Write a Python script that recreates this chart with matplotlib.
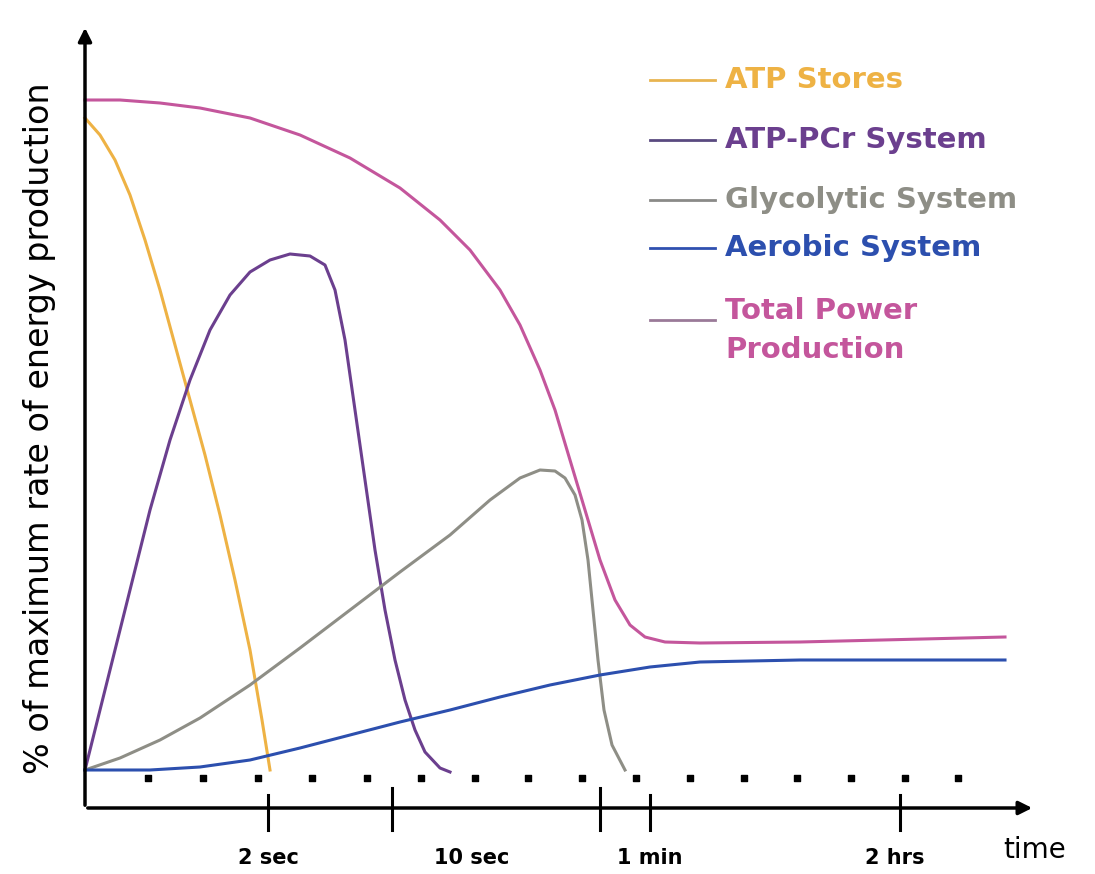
import numpy as np
import matplotlib
matplotlib.use("Agg")
import matplotlib.pyplot as plt

# ─── Data (x: time units from origin, y: % of max rate) ─────────────────────
def pct(py):
    return [(770 - v) / 670 * 100 for v in py]

def tx(px):
    return [v - 85 for v in px]

atp_x = tx([85, 100, 115, 130, 145, 160, 175, 190, 205, 220, 235, 250, 262, 270])
atp_y = pct([118, 135, 160, 195, 240, 290, 345, 400, 455, 515, 580, 650, 720, 770])

pcr_x = tx([85, 95, 110, 130, 150, 170, 190, 210, 230, 250, 270, 290, 310, 325, 335, 345,
            355, 365, 375, 385, 395, 405, 415, 425, 440, 450])
pcr_y = pct([770, 730, 670, 590, 510, 440, 380, 330, 295, 272, 260, 254, 256, 265, 290, 340,
             410, 480, 550, 610, 660, 700, 730, 752, 768, 772])

gly_x = tx([85, 120, 160, 200, 250, 300, 350, 400, 450, 490, 520, 540, 555, 565, 575, 582,
            588, 593, 598, 604, 612, 625])
gly_y = pct([770, 758, 740, 718, 685, 648, 610, 572, 535, 500, 478, 470, 471, 478, 495, 520,
             560, 610, 660, 710, 745, 770])

aer_x = tx([85, 150, 200, 250, 300, 350, 400, 450, 500, 550, 600, 650, 700, 800, 1005])
aer_y = pct([770, 770, 767, 760, 748, 735, 722, 710, 697, 685, 675, 667, 662, 660, 660])

tot_x = tx([85, 120, 160, 200, 250, 300, 350, 400, 440, 470, 500, 520, 540, 555, 570, 585,
            600, 615, 630, 645, 665, 700, 800, 1005])
tot_y = pct([100, 100, 103, 108, 118, 135, 158, 188, 220, 250, 290, 325, 370, 410, 460, 510,
             560, 600, 625, 637, 642, 643, 642, 637])

dot_x = [63, 118, 173, 227, 282, 336, 390, 443, 497, 551, 605, 659, 712, 766, 820, 873]
tick_x = [183, 307, 515, 565, 815]
tick_labels = ["2 sec", "10 sec", "1 min", "2 hrs"]
label_x = [183, 387, 565, 810]

legend_names = ["ATP Stores", "ATP-PCr System", "Glycolytic System", "Aerobic System", "Total Power\nProduction"]
legend_colors = ["#eeb244", "#6b3f8e", "#8e8e86", "#2c4fae", "#c4569c"]
legend_line = ["#e8b450", "#5a4a80", "#8a8a88", "#3050b0", "#9a7a98"]
legend_y = pct([80, 140, 200, 248, 320])

# ─── Figure ────────────────────────────────────────────────────────────────
fig = plt.figure(figsize=(10.95, 8.74), dpi=100)
ax = fig.add_axes([0, 0, 1, 1])
ax.set_xlim(-85, 1010)
ax.set_ylim(pct([874])[0], pct([0])[0])
ax.axis("off")

lw = 2.2
ax.plot(atp_x, atp_y, color=legend_colors[0], lw=lw)
ax.plot(pcr_x, pcr_y, color=legend_colors[1], lw=lw)
ax.plot(gly_x, gly_y, color=legend_colors[2], lw=lw)
ax.plot(aer_x, aer_y, color=legend_colors[3], lw=lw)
ax.plot(tot_x, tot_y, color=legend_colors[4], lw=lw)

# axes with arrows
y0 = pct([808])[0]
ax.annotate("", xy=(0, pct([25])[0]), xytext=(0, y0),
            arrowprops=dict(arrowstyle="-|>", color="black", lw=2.5, mutation_scale=20))
ax.annotate("", xy=(950, y0), xytext=(0, y0),
            arrowprops=dict(arrowstyle="-|>", color="black", lw=2.5, mutation_scale=20))

ax.scatter(dot_x, [pct([778])[0]] * len(dot_x), marker="s", s=22, color="black")
for i, t in enumerate(tick_x):
    top = 788 if i in (1, 2) else 795
    ax.plot([t, t], pct([top, 830]), color="black", lw=2.2)
for lx, lab in zip(label_x, tick_labels):
    ax.text(lx, pct([858])[0], lab, ha="center", va="center", fontsize=15, fontweight="bold")
ax.text(950, pct([850])[0], "time", ha="center", va="center", fontsize=20)

ax.text(-45, pct([428])[0], "% of maximum rate of energy production", rotation=90,
        ha="center", va="center", fontsize=24)

for name, c, lc, ly in zip(legend_names, legend_colors, legend_line, legend_y):
    ax.plot([565, 630], [ly, ly], color=lc, lw=2)
    multi = "\n" in name
    ax.text(640, ly + 3.5 if multi else ly, name, color=c, fontsize=21, fontweight="bold",
            va="top" if multi else "center", linespacing=1.5)

fig.savefig("out.png", dpi=100, facecolor="white")
